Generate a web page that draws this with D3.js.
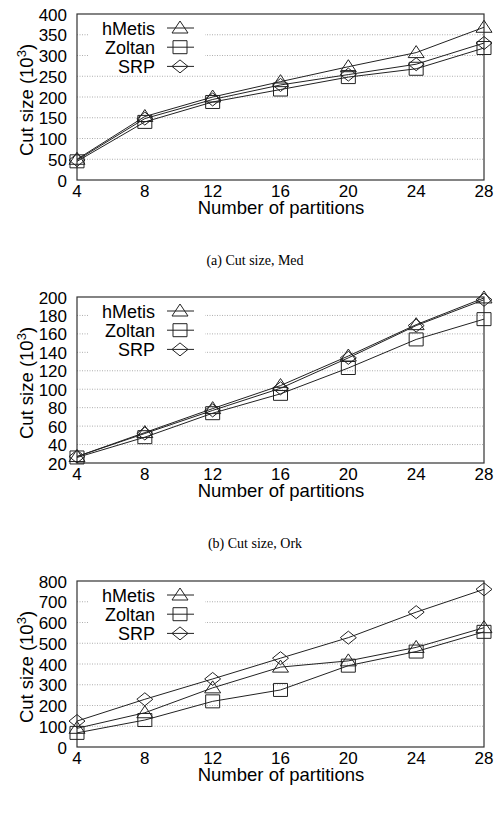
<!DOCTYPE html>
<html>
<head>
<meta charset="utf-8">
<script src="https://cdn.jsdelivr.net/npm/d3@7"></script>
<style>
  body { margin: 0; background: #fff; }
  svg text { font-family: "Liberation Sans", Arial, sans-serif; fill: #000; }
  .caption { font-family: "Liberation Serif", "Times New Roman", serif; font-size: 14px; }
</style>
</head>
<body>
<script>
// partitions on x axis
var partitions = [4, 8, 12, 16, 20, 24, 28];
var seriesNames = ["hMetis", "Zoltan", "SRP"];
var markerKinds = ["triangle", "square", "diamond"];

// (a) Med
var medHMetis = [50, 153, 200, 237, 273, 307, 368];
var medZoltan = [45, 140, 188, 218, 248, 268, 318];
var medSRP    = [48, 148, 194, 229, 254, 279, 330];
var medTicks  = [0, 50, 100, 150, 200, 250, 300, 350, 400];

// (b) Ork
var orkHMetis = [27, 53, 79, 104, 136, 170, 199];
var orkZoltan = [26, 48, 74, 95, 123, 154, 176];
var orkSRP    = [27, 52, 77, 101, 134, 169, 197];
var orkTicks  = [20, 40, 60, 80, 100, 120, 140, 160, 180, 200];

// (c)
var thirdHMetis = [90, 165, 285, 385, 415, 480, 575];
var thirdZoltan = [68, 130, 220, 275, 392, 460, 555];
var thirdSRP    = [125, 230, 328, 428, 527, 650, 760];
var thirdTicks  = [0, 100, 200, 300, 400, 500, 600, 700, 800];

var W = 500, H = 816;
var svg = d3.select("body").append("svg").attr("width", W).attr("height", H);

function markerPath(kind) {
  if (kind === "triangle") return "M0,-7L8,5L-8,5Z";
  if (kind === "square") return "M-7,-6.5H7V6.5H-7Z";
  return "M0,-6.5L8,0L0,6.5L-8,0Z";
}

function drawPanel(top, values, ticks, caption) {
  var left = 77, right = 484, bottom = top + 166;
  var x = d3.scaleLinear().domain([4, 28]).range([left, right]);
  var y = d3.scaleLinear().domain([ticks[0], ticks[ticks.length - 1]]).range([bottom, top]);
  var g = svg.append("g");

  // dotted grid
  g.selectAll(".grid").data(ticks.slice(1, -1)).enter().append("line")
    .attr("x1", left).attr("x2", right)
    .attr("y1", d => y(d)).attr("y2", d => y(d))
    .attr("stroke", "#999").attr("stroke-width", 0.8).attr("stroke-dasharray", "1,1.5");

  // legend box hides grid
  g.append("rect").attr("x", 88).attr("y", top + 3).attr("width", 117).attr("height", 56).attr("fill", "#fff");

  g.append("rect").attr("x", left).attr("y", top).attr("width", right - left).attr("height", bottom - top)
    .attr("fill", "none").attr("stroke", "#333").attr("stroke-width", 1.2);

  g.selectAll(".yl").data(ticks).enter().append("text")
    .attr("x", left - 10).attr("y", d => y(d) + 6.5)
    .attr("text-anchor", "end").attr("font-size", 17).text(d => d);
  g.selectAll(".xl").data(partitions).enter().append("text")
    .attr("x", d => x(d)).attr("y", bottom + 17)
    .attr("text-anchor", "middle").attr("font-size", 17).text(d => d);

  g.append("text").attr("x", 281).attr("y", bottom + 34).attr("text-anchor", "middle")
    .attr("font-size", 18.5).text("Number of partitions");

  var yt = g.append("text").attr("transform", "translate(33," + ((top + bottom) / 2 + 3) + ") rotate(-90)")
    .attr("text-anchor", "middle").attr("font-size", 18.5);
  yt.append("tspan").text("Cut size (10");
  yt.append("tspan").attr("font-size", 13).attr("dy", -7).text("3");
  yt.append("tspan").attr("dy", 7).text(")");

  var line = d3.line().x((d, i) => x(partitions[i])).y(d => y(d));

  values.forEach(function (vals, k) {
    g.append("path").attr("d", line(vals)).attr("fill", "none")
      .attr("stroke", "#222").attr("stroke-width", 1);
    g.selectAll(".m" + k).data(vals).enter().append("path")
      .attr("transform", (d, i) => "translate(" + x(partitions[i]) + "," + y(d) + ")")
      .attr("d", markerPath(markerKinds[k]))
      .attr("fill", "none").attr("stroke", "#222").attr("stroke-width", 1);
  });

  // legend
  seriesNames.forEach(function (name, k) {
    var ly = top + 14 + k * 19.2;
    g.append("text").attr("x", 155).attr("y", ly + 6.5).attr("text-anchor", "end")
      .attr("font-size", 18).text(name);
    g.append("line").attr("x1", 167).attr("x2", 194).attr("y1", ly).attr("y2", ly)
      .attr("stroke", "#222");
    g.append("path").attr("transform", "translate(180," + ly + ")")
      .attr("d", markerPath(markerKinds[k]))
      .attr("fill", "none").attr("stroke", "#222");
  });

  if (caption) {
    svg.append("text").attr("class", "caption").attr("x", 255).attr("y", bottom + 85)
      .attr("text-anchor", "middle").text(caption);
  }
}

drawPanel(14, [medHMetis, medZoltan, medSRP], medTicks, "(a) Cut size, Med");
drawPanel(297, [orkHMetis, orkZoltan, orkSRP], orkTicks, "(b) Cut size, Ork");
drawPanel(581, [thirdHMetis, thirdZoltan, thirdSRP], thirdTicks, null);
</script>
</body>
</html>
